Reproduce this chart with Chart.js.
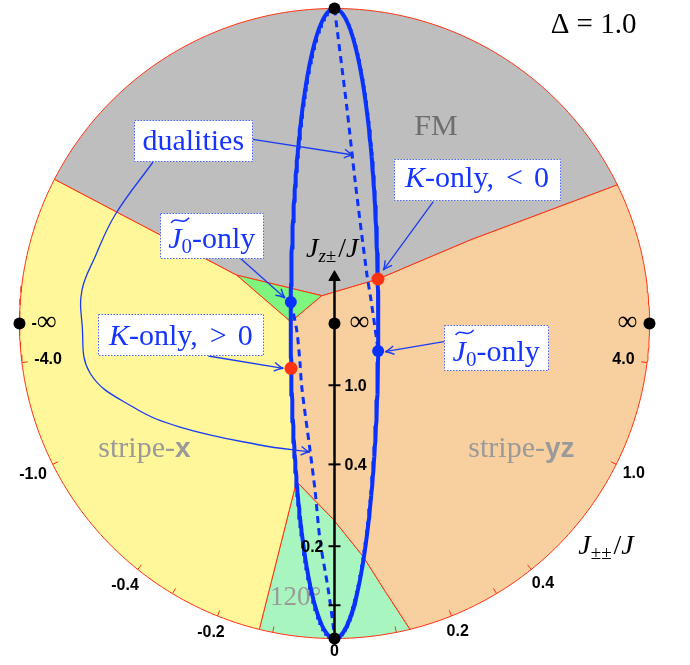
<!DOCTYPE html>
<html>
<head>
<meta charset="utf-8">
<title>Phase diagram, Δ = 1.0</title>
<script src="https://cdn.jsdelivr.net/npm/chart.js@4.4.1/dist/chart.umd.min.js"></script>
<style>
  html, body { margin: 0; padding: 0; background: #ffffff; }
  canvas { display: block; }
</style>
</head>
<body>
<canvas id="phase" width="690" height="665"></canvas>
<script>
// Everything lives on the unit disk: u to the right, w up, rim radius 1.

// J_±±/J ticks on the rim (angle from the bottom = atan(2 J_±±/J))
const rimTicks = [-4.0, -1.0, -0.4, -0.3, -0.2, -0.1, 0.1, 0.2, 0.3, 0.4, 1.0, 4.0];
const rimLabelValues = [-Infinity, -4.0, -1.0, -0.4, -0.2, 0, 0.2, 0.4, 1.0, 4.0, Infinity];
const rimLabels = ['-∞', '-4.0', '-1.0', '-0.4', '-0.2', '0', '0.2', '0.4', '1.0', '4.0', '∞'];

// J_z±/J ticks on the vertical axis (0 at the bottom, ∞ at the centre)
const axisTicks = [0.1, 0.2, 0.4, 1.0];
const axisLabels = ['', '0.2', '0.4', '1.0'];

// phase boundaries
const fmStripeX = [[-0.8905, 0.4587], [-0.3105, 0.1537]];
const greenTriangle = [[-0.3105, 0.1537], [-0.0406, 0.0883], [-0.139, 0.0057]];
const fmStripeYZ = [[-0.0406, 0.0883], [0.138, 0.1413], [0.4302, 0.2651], [0.8111, 0.4079], [0.8984, 0.4406]];
const stripeXvsYZ = [[-0.139, 0.0057], [-0.138, -0.12], [-0.1346, -0.25], [-0.1291, -0.37], [-0.1206, -0.5016]];
const edge120Left = [[-0.1206, -0.5016], [-0.2387, -0.9708]];
const edge120Right = [[-0.1206, -0.5016], [-0.0038, -0.6216], [0.0914, -0.7403], [0.1603, -0.8492], [0.2397, -0.9708]];

// duality curves
const ELLIPSE_HALF_WIDTH = 0.139;
const dualUpper = [[0, 1], [0.039, 0.6873], [0.0651, 0.4556], [0.1022, 0.1603], [0.1159, 0.0746], [0.134, -0.0524], [0.1385, -0.087]];
const dualLower = [[-0.1387, 0.0683], [-0.12, -0.0206], [-0.1095, -0.1254], [-0.1041, -0.2006], [-0.0778, -0.4016],
                   [-0.0619, -0.5286], [-0.046, -0.6873], [-0.0197, -0.846], [-0.0038, -0.9625], [0, -1]];

// special points
const kOnly = [[0.138, 0.1413], [-0.138, -0.1422]];
const j0Only = [[-0.1387, 0.0683], [0.1385, -0.087]];
const poles = [[0, 1], [0, -1], [-1, 0], [1, 0], [0, 0]];

// ---- colours / fonts ----
const GRAY = '#BEBEBE', YELLOW = '#FFF799', PEACH = '#F8D09F', GREEN120 = '#A8F5C0', GREEN_TRI = '#7EF57E';
const RED = '#FF3311', BLUE = '#0A32FF', ARROW = '#1A3CF5', TEXT_BLUE = '#1535FF';
const SERIF = '"Liberation Serif", "Times New Roman", serif';
const SANS = '"Liberation Sans", Arial, sans-serif';
const serif = (size, style) => (style ? style + ' ' : '') + size + 'px ' + SERIF;
const TICK_FONT = 'bold 16px ' + SANS;

// ---- geometry helpers ----
const rimAngle = v => -Math.PI / 2 + Math.atan(2 * v);
const axisPos = v => -1 / Math.sqrt(1 + 25 * v * v);
const rev = a => a.slice().reverse();
const last = a => a[a.length - 1];

function rimArc(from, to) {
  const a0 = Math.atan2(from[1], from[0]);
  let a1 = Math.atan2(to[1], to[0]);
  while (a1 <= a0) a1 += 2 * Math.PI;
  const n = Math.ceil((a1 - a0) / 0.02);
  const out = [];
  for (let i = 0; i <= n; i++) {
    const a = a0 + (a1 - a0) * i / n;
    out.push([Math.cos(a), Math.sin(a)]);
  }
  return out;
}

const fmPoly = [...rimArc(last(fmStripeYZ), fmStripeX[0]), fmStripeX[1], ...fmStripeYZ];
const yellowPoly = [...rimArc(fmStripeX[0], last(edge120Left)), ...rev(stripeXvsYZ), greenTriangle[0], fmStripeX[0]];
const peachPoly = [...rimArc(last(edge120Right), last(fmStripeYZ)), ...rev(fmStripeYZ), ...stripeXvsYZ, ...edge120Right];
const phase120Poly = [...rimArc(last(edge120Left), last(edge120Right)), ...rev(edge120Right), last(edge120Left)];
const trianglePoly = [...greenTriangle, greenTriangle[0]];

const ellipse = [];
for (let i = 0; i <= 360; i++) {
  const t = 2 * Math.PI * i / 360;
  ellipse.push([ELLIPSE_HALF_WIDTH * Math.sin(t), Math.cos(t)]);
}

// ---- annotations ----
const arrowPaths = [
  [[-0.2587, 0.5845], [0.0597, 0.5349]],
  [[-0.5762, 0.5127], [-0.6968, 0.3444], [-0.7603, 0.2111], [-0.8016, 0.1063], [-0.8016, 0.0016],
   [-0.7762, -0.1571], [-0.6397, -0.2651], [-0.4905, -0.3286], [-0.2365, -0.3857], [-0.0778, -0.4079]],
  [[-0.3, 0.2079], [-0.1571, 0.081]],
  [[0.3137, 0.3867], [0.1549, 0.1698]],
  [[0.3476, -0.0578], [0.1603, -0.0895]],
  [[-0.4006, -0.1032], [-0.1625, -0.1422]]
];

const j0Parts = [
  { text: 'J', font: serif(30, 'italic'), tilde: 18 },
  { text: '0', font: serif(21), dy: 5 },
  { text: '-only', font: serif(30) }
];
const kParts = rel => [
  { text: 'K', font: serif(30, 'italic') },
  { text: '-only,', font: serif(30), gap: 12 },
  { text: rel, font: serif(30), gap: 11 },
  { text: '0', font: serif(30) }
];
const boxes = [
  { at: [-0.4483, 0.581], w: 118, h: 41, base: 9.5, parts: [{ text: 'dualities', font: serif(30) }] },
  { at: [-0.3898, 0.2784], w: 103, h: 45, base: 12.5, parts: j0Parts },
  { at: [0.4524, 0.4556], w: 166, h: 41, base: 7, parts: kParts('<') },
  { at: [0.5133, -0.0762], w: 104, h: 45, base: 13, parts: j0Parts },
  { at: [-0.4879, -0.0356], w: 165, h: 41, base: 10, parts: kParts('>') }
];

// ---- datasets ----
const pts = arr => arr.map(([x, y]) => ({ x, y }));
const region = (poly, color) => ({
  data: pts(poly), showLine: true, fill: 'shape', backgroundColor: color,
  borderColor: RED, borderWidth: 1, pointRadius: 0, tension: 0
});
const curve = (arr, color, width, dash, tension) => ({
  data: pts(arr), showLine: true, fill: false, borderColor: color, borderWidth: width,
  borderDash: dash, pointRadius: 0, tension: tension || 0, borderCapStyle: 'butt'
});
const dots = (arr, color, r) => ({
  data: pts(arr), showLine: false, pointRadius: r, pointBackgroundColor: color,
  pointBorderColor: color, pointBorderWidth: 0
});

const datasets = [
  dots(j0Only, BLUE, 6),
  dots(kOnly, RED, 6.5),
  dots(poles, '#000000', 6),
  {
    data: pts([[0, -1], [0, 0.147]]), showLine: true, borderColor: '#000000', borderWidth: 2.5,
    pointRadius: [0, 6.5], pointStyle: 'triangle', pointBackgroundColor: '#000000',
    pointBorderColor: '#000000', pointBorderWidth: 1
  },
  ...arrowPaths.map(p => curve(p, ARROW, 1.3, [], p.length > 2 ? 0.4 : 0)),
  curve(ellipse, BLUE, 4, []),
  curve(dualUpper, BLUE, 3, [7, 5], 0.3),
  curve(dualLower, BLUE, 3, [7, 5], 0.3),
  region(trianglePoly, GREEN_TRI),
  region(fmPoly, GRAY),
  region(yellowPoly, YELLOW),
  region(peachPoly, PEACH),
  region(phase120Poly, GREEN120)
];
const LABEL_LAYER = datasets.length - 5;

// ---- drawing of text and small marks ----
function drawRich(ctx, parts, x, y, color) {
  ctx.textAlign = 'left';
  ctx.textBaseline = 'alphabetic';
  for (const p of parts) {
    ctx.font = p.font;
    ctx.fillStyle = color;
    ctx.fillText(p.text, x, y + (p.dy || 0));
    const w = ctx.measureText(p.text).width;
    if (p.tilde) {
      const x0 = x + 3, yc = y - 28, tw = p.tilde;
      ctx.beginPath();
      ctx.moveTo(x0, yc + 2.5);
      ctx.bezierCurveTo(x0 + tw * 0.3, yc - 5, x0 + tw * 0.6, yc + 6, x0 + tw, yc - 2.5);
      ctx.strokeStyle = color;
      ctx.lineWidth = 1.5;
      ctx.stroke();
    }
    x += w + (p.gap || 0);
  }
}
function richWidth(ctx, parts) {
  let w = 0;
  parts.forEach((p, i) => {
    ctx.font = p.font;
    w += ctx.measureText(p.text).width + (i < parts.length - 1 ? (p.gap || 0) : 0);
  });
  return w;
}

const overlay = {
  id: 'overlay',
  afterDatasetDraw(chart, args) {
    if (args.index !== LABEL_LAYER) return;
    const ctx = chart.ctx, X = v => chart.scales.x.getPixelForValue(v), Y = v => chart.scales.y.getPixelForValue(v);
    ctx.save();
    // rim ticks
    ctx.strokeStyle = RED;
    ctx.lineWidth = 1;
    rimTicks.forEach(v => {
      const a = rimAngle(v), dx = Math.cos(a), dy = -Math.sin(a);
      const px = X(Math.cos(a)), py = Y(Math.sin(a));
      ctx.beginPath();
      ctx.moveTo(px, py);
      ctx.lineTo(px - dx * 6, py - dy * 6);
      ctx.stroke();
    });
    // phase names
    ctx.fillStyle = '#6E6E6E';
    ctx.font = serif(30);
    ctx.textAlign = 'center';
    ctx.fillText('FM', X(0.3222), Y(0.5984));
    const bold = 'bold 28px ' + SANS;
    drawRich(ctx, [{ text: 'stripe-', font: serif(30) }, { text: 'x', font: bold }], X(-0.7498), Y(-0.4229), '#9A9A9A');
    drawRich(ctx, [{ text: 'stripe-', font: serif(30) }, { text: 'yz', font: bold }], X(0.4248), Y(-0.4229), '#9A9A9A');
    drawRich(ctx, [{ text: '120°', font: serif(27) }], X(-0.2048), Y(-0.8937), '#9A9A9A');
    ctx.restore();
  },
  afterDatasetsDraw(chart) {
    const ctx = chart.ctx, X = v => chart.scales.x.getPixelForValue(v), Y = v => chart.scales.y.getPixelForValue(v);
    ctx.save();

    // rim labels
    ctx.fillStyle = '#000000';
    ctx.textBaseline = 'middle';
    rimLabelValues.forEach((v, i) => {
      const a = rimAngle(v), dx = Math.cos(a), dy = -Math.sin(a);
      const px = X(Math.cos(a)), py = Y(Math.sin(a));
      const label = rimLabels[i];
      const inf = label.includes('∞');
      const parts = inf
        ? [{ text: label.replace('∞', ''), font: TICK_FONT }, { text: '∞', font: serif(28) }]
        : [{ text: label, font: TICK_FONT }];
      const w = richWidth(ctx, parts), h = 12;
      const ext = Math.abs(dx) * w / 2 + Math.abs(dy) * h / 2;
      const inside = Math.abs(v) >= 4;
      const d = inside ? -(12 + ext) : (7 + ext);
      const cx = px + dx * d, cy = py + dy * d;
      let x = cx - w / 2;
      parts.forEach(p => {
        ctx.font = p.font;
        ctx.textAlign = 'left';
        ctx.fillText(p.text, x, cy + (p.text === '∞' ? -1 : 0));
        x += ctx.measureText(p.text).width;
      });
    });

    // vertical J_z±/J axis ticks and labels
    const ax = X(0);
    ctx.strokeStyle = '#000000';
    ctx.lineWidth = 2;
    axisTicks.forEach((v, i) => {
      const y = Y(axisPos(v));
      ctx.beginPath();
      ctx.moveTo(ax - 6, y);
      ctx.lineTo(ax + 6, y);
      ctx.stroke();
      if (!axisLabels[i]) return;
      ctx.font = TICK_FONT;
      const left = axisLabels[i] === '0.2';
      ctx.textAlign = left ? 'right' : 'left';
      ctx.fillText(axisLabels[i], left ? ax - 11 : ax + 10, y + 1);
    });
    ctx.font = serif(28);
    ctx.textAlign = 'left';
    ctx.fillText('∞', ax + 15, Y(0) - 1);

    // arrow heads
    ctx.strokeStyle = ARROW;
    ctx.lineWidth = 1.4;
    arrowPaths.forEach(p => {
      const a = p[p.length - 2], b = last(p);
      const x1 = X(a[0]), y1 = Y(a[1]), x2 = X(b[0]), y2 = Y(b[1]);
      const ang = Math.atan2(y2 - y1, x2 - x1);
      ctx.beginPath();
      [-0.45, 0.45].forEach(s => {
        ctx.moveTo(x2 - 10 * Math.cos(ang + s), y2 - 10 * Math.sin(ang + s));
        ctx.quadraticCurveTo(x2 - 3 * Math.cos(ang + s / 3), y2 - 3 * Math.sin(ang + s / 3), x2, y2);
      });
      ctx.stroke();
    });

    // label boxes
    boxes.forEach(b => {
      const cx = X(b.at[0]), cy = Y(b.at[1]);
      const x0 = Math.round(cx - b.w / 2) + 0.5, y0 = Math.round(cy - b.h / 2) + 0.5;
      ctx.fillStyle = '#ffffff';
      ctx.fillRect(x0, y0, b.w, b.h);
      ctx.setLineDash([1.5, 1.5]);
      ctx.strokeStyle = '#4A66FF';
      ctx.lineWidth = 1;
      ctx.strokeRect(x0, y0, b.w, b.h);
      ctx.setLineDash([]);
      const w = richWidth(ctx, b.parts);
      drawRich(ctx, b.parts, cx - w / 2, cy + b.base, TEXT_BLUE);
    });

    // titles
    drawRich(ctx, [{ text: 'Δ = 1.0', font: serif(29) }], X(0.6863), Y(0.9232), '#000000');
    drawRich(ctx, [
      { text: 'J', font: serif(28, 'italic') },
      { text: 'z±', font: serif(19, 'italic'), dy: 5, gap: 2 },
      { text: '/', font: serif(28) },
      { text: 'J', font: serif(28, 'italic') }
    ], X(-0.0905), Y(0.2102), '#000000');
    drawRich(ctx, [
      { text: 'J', font: serif(28, 'italic') },
      { text: '±±', font: serif(19), dy: 5, gap: 2 },
      { text: '/', font: serif(28) },
      { text: 'J', font: serif(28, 'italic') }
    ], X(0.774), Y(-0.7327), '#000000');

    ctx.restore();
  }
};

new Chart(document.getElementById('phase'), {
  type: 'scatter',
  data: { datasets },
  options: {
    responsive: false,
    animation: false,
    events: [],
    layout: { padding: 0, autoPadding: false },
    scales: {
      x: { type: 'linear', min: -334.5 / 315, max: 355.5 / 315, display: false },
      y: { type: 'linear', min: -341.5 / 315, max: 323.5 / 315, display: false }
    },
    plugins: { legend: { display: false }, tooltip: { enabled: false } }
  },
  plugins: [overlay]
});
</script>
</body>
</html>
